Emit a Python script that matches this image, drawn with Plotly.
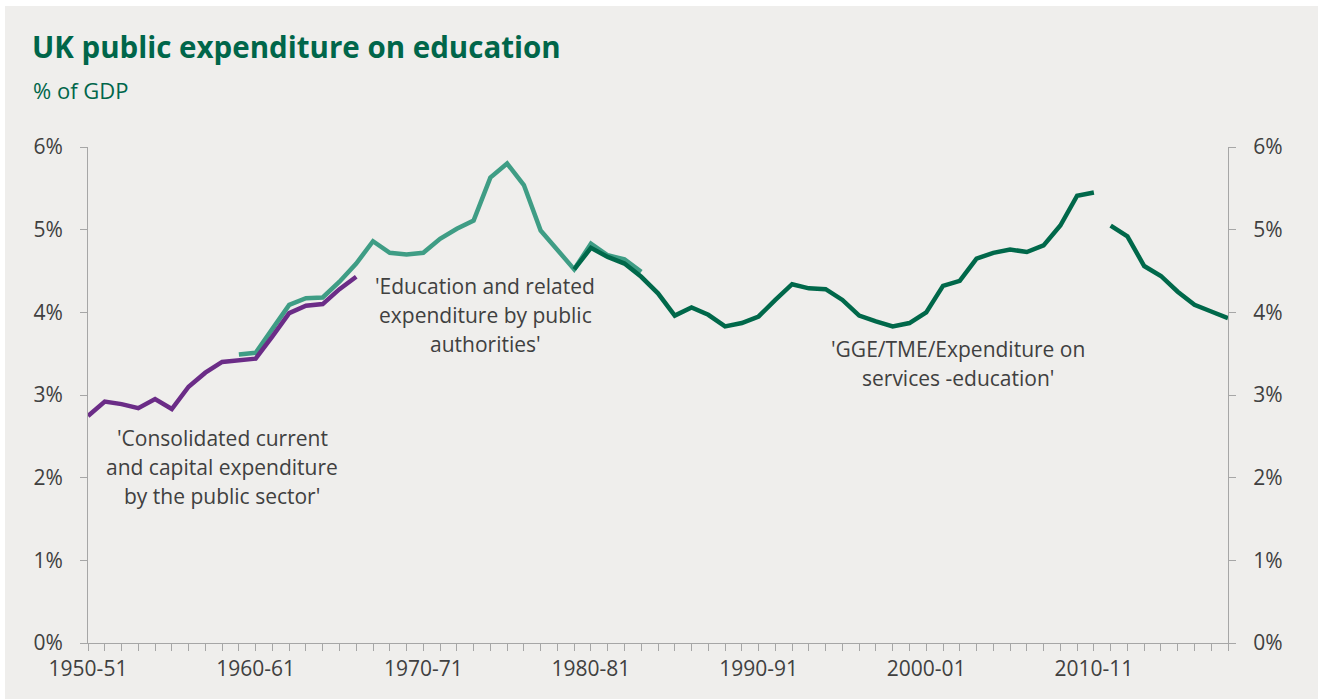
import plotly.graph_objects as go

# ---- data (share of GDP, %) ----
years_consolidated = list(range(1950, 1967))          # 1950-51 .. 1966-67
consolidated = [2.745, 2.92, 2.89, 2.84, 2.95, 2.83, 3.10, 3.27, 3.40, 3.42,
                3.44, 3.71, 3.99, 4.08, 4.10, 4.28, 4.43]

years_education = list(range(1959, 1984))             # 1959-60 .. 1983-84
education = [3.49, 3.51, 3.80, 4.09, 4.17, 4.18, 4.37, 4.59, 4.86, 4.72,
             4.70, 4.72, 4.89, 5.01, 5.11, 5.63, 5.80, 5.54, 4.99, 4.75,
             4.52, 4.83, 4.69, 4.64, 4.49]

years_gge_a = list(range(1979, 2011))                 # 1979-80 .. 2010-11
gge_a = [4.52, 4.78, 4.67, 4.59, 4.43, 4.23, 3.96, 4.06, 3.97, 3.83,
         3.87, 3.95, 4.15, 4.34, 4.29, 4.28, 4.15, 3.96, 3.89, 3.83,
         3.87, 4.00, 4.32, 4.38, 4.65, 4.72, 4.76, 4.73, 4.81, 5.05,
         5.41, 5.45]

years_gge_b = list(range(2011, 2019))                 # 2011-12 .. 2018-19
gge_b = [5.05, 4.92, 4.56, 4.44, 4.25, 4.09, 4.01, 3.93]

tick_years = list(range(1950, 2019))
decade_labels = {1950: "1950-51", 1960: "1960-61", 1970: "1970-71",
                 1980: "1980-81", 1990: "1990-91", 2000: "2000-01",
                 2010: "2010-11"}
y_ticks = [0, 1, 2, 3, 4, 5, 6]
y_ticktext = ["0%", "1%", "2%", "3%", "4%", "5%", "6%"]

# ---- styling ----
PURPLE = "#6B2C87"
TEAL = "#3F9D85"
DGREEN = "#00684A"
TITLE_GREEN = "#00664A"
BG = "#EFEEEC"
TXT = "#404040"
AXIS = "#A6A6A6"
FONT = "Open Sans"
LW = 4.5

fig = go.Figure()
fig.add_trace(go.Scatter(x=years_education, y=education, mode="lines",
                         line=dict(color=TEAL, width=LW), hoverinfo="skip"))
fig.add_trace(go.Scatter(x=years_consolidated, y=consolidated, mode="lines",
                         line=dict(color=PURPLE, width=LW), hoverinfo="skip"))
fig.add_trace(go.Scatter(x=years_gge_a, y=gge_a, mode="lines",
                         line=dict(color=DGREEN, width=LW), hoverinfo="skip"))
# last segment plotted against the (identical) right-hand axis
fig.add_trace(go.Scatter(x=years_gge_b, y=gge_b, mode="lines", yaxis="y2",
                         line=dict(color=DGREEN, width=LW), hoverinfo="skip"))

W, H = 1320, 699
L, R, T, B = 88, 1228, 147, 643
pw, ph = R - L, B - T

def px_x(p):
    return (p - L) / pw

def px_y(p):
    return (B - p) / ph

# grey panel
fig.add_shape(type="rect", xref="paper", yref="paper",
              x0=px_x(5), x1=px_x(1318), y0=px_y(699), y1=px_y(6),
              fillcolor=BG, line=dict(width=0), layer="below")

axis_common = dict(showgrid=False, zeroline=False, showline=True,
                   linecolor=AXIS, linewidth=1, ticks="outside",
                   tickcolor=AXIS, tickwidth=1,
                   tickfont=dict(family=FONT, size=21, color=TXT))

fig.update_layout(
    width=W, height=H,
    margin=dict(l=L, r=W - R, t=T, b=H - B, pad=0),
    paper_bgcolor="white", plot_bgcolor=BG,
    showlegend=False,
    title=dict(text="<b>UK public expenditure on education</b>",
               font=dict(family=FONT, size=29.5, color=TITLE_GREEN),
               x=32 / W, xanchor="left", y=1 - 48 / H, yanchor="middle"),
    xaxis=dict(range=[1950, 2018], tickvals=tick_years,
               ticktext=[decade_labels.get(y, "") for y in tick_years],
               ticklen=7, tickangle=0, **axis_common),
    yaxis=dict(range=[0, 6], tickvals=y_ticks, ticktext=y_ticktext,
               ticklen=7, ticklabelstandoff=13, **axis_common),
    yaxis2=dict(range=[0, 6], tickvals=y_ticks, ticktext=y_ticktext,
                overlaying="y", side="right", anchor="x",
                ticklen=7, ticklabelstandoff=13, **axis_common),
)

# subtitle
fig.add_annotation(text="% of GDP", xref="paper", yref="paper",
                   x=px_x(31), y=px_y(90), xanchor="left", yanchor="middle",
                   showarrow=False,
                   font=dict(family=FONT, size=22, color=TITLE_GREEN))

# series labels (one annotation per line)
labels = [
    (1958.0, [438, 467, 496], ["'Consolidated current", "and capital expenditure",
                               "by the public sector'"]),
    (1973.7, [286, 315, 344], ["'Education and related", "expenditure by public",
                               "authorities'"]),
    (2001.9, [349, 378], ["'GGE/TME/Expenditure on", "services -education'"]),
]
for xc, ys, lines in labels:
    for yp, txt in zip(ys, lines):
        fig.add_annotation(text=txt, x=xc, xref="x", yref="paper", y=px_y(yp),
                           xanchor="center", yanchor="middle", showarrow=False,
                           font=dict(family=FONT, size=21, color=TXT))

fig.write_html("out.html",
               config={"displayModeBar": False},
               post_script="document.body.style.margin='0';"
                           "document.body.style.overflow='hidden';")
